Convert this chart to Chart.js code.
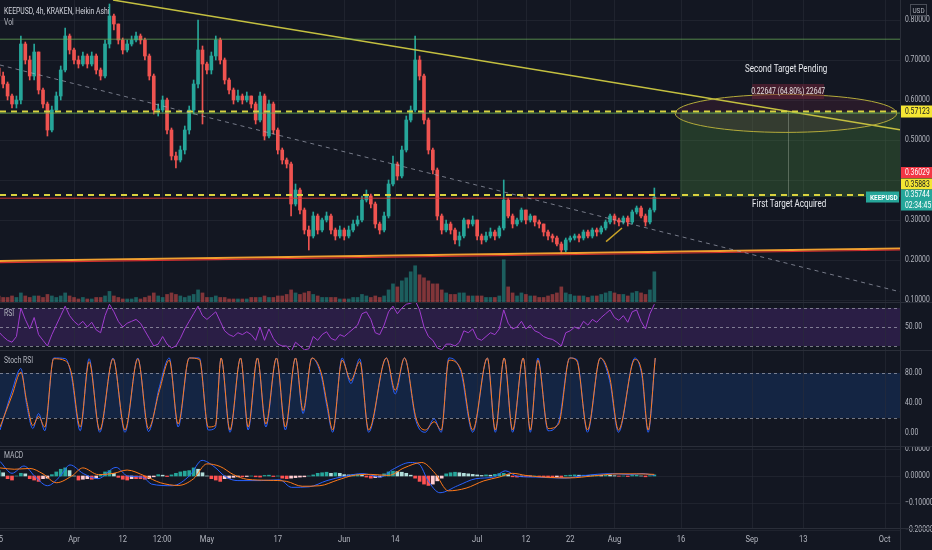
<!DOCTYPE html>
<html>
<head>
<meta charset="utf-8">
<script src="https://cdn.jsdelivr.net/npm/chart.js@4.4.0/dist/chart.umd.min.js"></script>
<style>
  html, body { margin: 0; padding: 0; background: #131722; }
  #wrap { position: relative; width: 932px; height: 550px; overflow: hidden; }
  canvas { position: absolute; left: 0; }
  .sep { position: absolute; background: #2a2e39; }
</style>
</head>
<body>
<div id="wrap">
  <canvas id="price" width="932" height="302" style="top:0"></canvas>
  <canvas id="rsi" width="932" height="47" style="top:303px"></canvas>
  <canvas id="stoch" width="932" height="95" style="top:351px"></canvas>
  <canvas id="macd" width="932" height="103" style="top:447px"></canvas>
  <div class="sep" style="left:0;top:302px;width:932px;height:1px"></div>
  <div class="sep" style="left:0;top:350px;width:932px;height:1px"></div>
  <div class="sep" style="left:0;top:446px;width:932px;height:1px"></div>
  <div class="sep" style="left:900px;top:0;width:1px;height:550px"></div>
</div>
<script>
// Daily Heikin Ashi style candles, day 0 = Mar 15
const closes = [0.66,0.64,0.61,0.59,0.60,0.74,0.70,0.66,0.72,0.625,
  0.59,0.525,0.575,0.61,0.675,0.76,0.725,0.70,0.69,0.71,
  0.69,0.71,0.675,0.66,0.74,0.81,0.79,0.75,0.725,0.74,
  0.75,0.76,0.75,0.71,0.66,0.575,0.575,0.60,0.525,0.46,
  0.45,0.475,0.525,0.575,0.64,0.725,0.69,0.675,0.71,0.75,
  0.70,0.65,0.625,0.60,0.61,0.60,0.61,0.59,0.55,0.61,
  0.51,0.59,0.525,0.475,0.45,0.44,0.34,0.375,0.325,0.275,
  0.26,0.31,0.275,0.30,0.31,0.275,0.26,0.275,0.26,0.275,
  0.29,0.30,0.35,0.36,0.34,0.29,0.275,0.31,0.39,0.44,
  0.41,0.475,0.55,0.575,0.70,0.66,0.55,0.475,0.425,0.31,
  0.275,0.29,0.275,0.25,0.26,0.30,0.29,0.30,0.26,0.25,
  0.26,0.27,0.26,0.28,0.35,0.31,0.29,0.30,0.325,0.30,
  0.31,0.295,0.29,0.27,0.26,0.255,0.24,0.225,0.25,0.255,
  0.26,0.255,0.27,0.26,0.275,0.27,0.28,0.295,0.31,0.30,
  0.295,0.305,0.295,0.32,0.33,0.31,0.295,0.325,0.357];
const highs = [0.69,0.67,0.645,0.615,0.61,0.76,0.745,0.71,0.74,0.72,
  0.63,0.595,0.585,0.62,0.685,0.78,0.765,0.73,0.71,0.72,
  0.715,0.72,0.715,0.68,0.75,0.84,0.815,0.79,0.755,0.75,
  0.76,0.77,0.765,0.755,0.715,0.665,0.59,0.61,0.605,0.53,
  0.47,0.485,0.535,0.585,0.65,0.80,0.735,0.695,0.72,0.76,
  0.755,0.705,0.655,0.63,0.625,0.615,0.62,0.61,0.595,0.62,
  0.615,0.60,0.595,0.53,0.48,0.455,0.445,0.39,0.38,0.33,
  0.285,0.32,0.315,0.305,0.32,0.315,0.28,0.285,0.28,0.285,
  0.30,0.31,0.36,0.375,0.365,0.345,0.295,0.32,0.40,0.46,
  0.445,0.485,0.56,0.585,0.76,0.71,0.665,0.555,0.48,0.43,
  0.315,0.30,0.295,0.28,0.27,0.305,0.30,0.31,0.30,0.265,
  0.27,0.28,0.275,0.285,0.40,0.355,0.315,0.305,0.33,0.325,
  0.315,0.31,0.30,0.29,0.275,0.265,0.26,0.245,0.255,0.26,
  0.265,0.265,0.275,0.275,0.28,0.28,0.285,0.30,0.315,0.315,
  0.305,0.31,0.31,0.325,0.335,0.335,0.315,0.33,0.38];
const lows = [0.64,0.63,0.60,0.58,0.58,0.59,0.69,0.65,0.65,0.615,
  0.58,0.51,0.52,0.57,0.60,0.67,0.715,0.69,0.68,0.685,
  0.68,0.685,0.665,0.65,0.655,0.73,0.775,0.74,0.715,0.72,
  0.735,0.745,0.74,0.70,0.65,0.565,0.56,0.57,0.515,0.45,
  0.43,0.445,0.465,0.515,0.565,0.63,0.54,0.665,0.665,0.70,
  0.69,0.64,0.615,0.59,0.595,0.59,0.595,0.58,0.54,0.545,
  0.50,0.505,0.515,0.465,0.44,0.43,0.31,0.335,0.315,0.265,
  0.225,0.255,0.265,0.27,0.295,0.265,0.25,0.255,0.25,0.255,
  0.27,0.285,0.295,0.345,0.33,0.28,0.265,0.27,0.305,0.385,
  0.40,0.405,0.47,0.545,0.57,0.65,0.54,0.465,0.415,0.30,
  0.265,0.27,0.265,0.24,0.235,0.255,0.28,0.285,0.25,0.24,
  0.245,0.255,0.25,0.255,0.275,0.305,0.28,0.285,0.295,0.29,
  0.295,0.285,0.28,0.26,0.25,0.245,0.235,0.215,0.22,0.245,
  0.25,0.245,0.25,0.255,0.255,0.26,0.265,0.275,0.29,0.29,
  0.285,0.29,0.285,0.29,0.315,0.305,0.285,0.29,0.32];
const firstOpen = 0.68;
const volumes = [2,1.5,1.5,2,1.5,3,2,1.5,2,2,
  1.5,2.5,2,1.5,2,3,2,1.5,1,1.5,
  1,1,1.5,1.5,2,3.5,2,1.5,1,1,
  1,1.5,1,1.5,2,3,2,1.5,2.5,3,
  2.5,2,1.5,2,2.5,4,3,1.5,1.5,2,
  1.5,1.5,1,1,1,1,1,1.5,1.5,1.5,
  2,1.5,1.5,2,2,2.5,4,3,2.5,3,
  3.5,2.5,2,1.5,1.5,1.5,1.5,1,1,1,
  1.5,1.5,2.5,2,1.5,2,1.5,2,4,6,
  5,7,8,10,12,9,8,7,6,6,
  4,3,2.5,2.5,3,3,2,2,2,2,
  1.5,1.5,1.5,2,14,5,3,2,3,2.5,
  2,2,1.5,1.5,2,2.5,3,5,3,2.5,
  2,2,2,1.5,2,2,2.5,3,3.5,3,
  2.5,2.5,2,3,3.5,3,2.5,4,10];

const rsiValues = [45,40,36,34,40,70,58,48,60,42,
  36,30,42,52,62,72,62,56,52,56,
  50,55,47,44,62,74,66,56,50,54,
  56,58,54,46,38,30,32,40,32,28,
  30,38,48,56,64,72,62,58,62,66,
  56,46,42,40,44,42,45,42,36,50,
  36,48,38,32,30,30,24,34,30,26,
  27,40,36,42,45,38,36,42,40,44,
  48,52,64,66,58,44,42,52,66,72,
  64,70,74,75,78,68,50,40,36,28,
  26,32,32,30,34,46,44,48,38,36,
  40,44,42,48,68,54,48,50,56,48,
  52,46,44,40,38,37,34,30,44,46,
  50,48,56,52,58,55,60,64,68,60,
  57,62,55,66,68,56,48,64,74];

const stochDays = [0.3,3.0,5.0,6.3,7.7,9.0,10.4,12.4,15.1,16.4,
  18.4,20.4,22.8,25.8,28.5,31.4,33.8,36.3,38.5,40.5,
  43.0,45.3,47.3,48.9,50.2,52.2,54.6,56.3,58.4,60.3,
  62.7,64.7,67.0,68.7,70.7,72.8,74.1,75.4,77.5,79.5,
  81.5,83.5,87.5,89.5,91.6,94.2,96.3,98.3,99.9,101.6,
  104.3,107.0,110.3,112.1,114.1,116.0,118.4,120.0,121.7,124.0,
  126.4,128.9,130.5,132.9,135.8,137.9,139.9,143.6,145.2,146.6,148.2];
const stochK = [4,56,86,38,6,26,3,100,99,76,
  3,99,1,100,1,100,2,62,100,8,
  100,100,4,7,100,1,100,4,100,8,
  100,4,100,26,100,76,35,1,100,66,
  99,1,100,52,100,16,1,19,1,100,
  82,1,100,1,100,1,100,1,100,3,
  15,100,98,1,100,70,1,100,76,1,100];
const stochD = [8,50,81,43,10,22,8,99,96,80,
  8,95,4,99,4,99,6,57,97,12,
  100,98,8,10,100,4,100,8,100,12,
  100,8,100,30,100,80,40,4,97,70,
  95,4,100,57,100,20,4,15,4,97,
  85,4,100,4,100,4,100,4,97,6,
  12,100,96,4,100,75,4,98,80,4,100];

const macdDays = [0.3,3.0,5.7,8.3,11.0,13.7,16.1,19.1,22.4,26.5,
  29.1,32.5,34.5,39.2,43.2,45.9,48.6,51.3,54.0,59.3,
  63.4,66.1,70.1,74.1,78.1,82.2,86.2,88.9,92.9,94.9,
  96.9,99.6,103.6,107.7,111.7,114.4,117.1,121.1,127.8,131.8,
  138.5,142.5,145.2,148.0];
const macdValues = [0.054,0.01,0.037,-0.004,-0.036,-0.004,0.041,0.009,-0.01,0.032,
  0.0,-0.004,-0.03,-0.036,0.003,0.058,0.035,-0.004,-0.017,-0.017,
  -0.014,-0.042,-0.04,-0.017,-0.001,0.009,-0.004,0.024,0.05,0.044,
  -0.017,-0.062,-0.036,-0.01,-0.004,0.019,-0.001,-0.004,-0.008,0.001,
  0.009,0.005,0.009,0.003];
const signalDays = [0.3,3.5,7.0,10.0,13.0,16.5,19.0,22.5,26.0,29.0,
  33.0,36.5,40.5,44.0,47.0,50.0,53.0,56.0,61.0,65.0,
  68.5,72.5,76.5,80.0,84.0,88.0,91.5,95.5,98.5,101.5,
  105.5,109.5,113.0,116.0,119.0,124.0,129.0,134.0,140.0,144.0,148.0];
const signalValues = [0.03,0.025,0.028,0.008,-0.025,0.0,0.03,0.005,0.01,0.022,
  0.0,-0.025,-0.035,-0.01,0.045,0.035,0.005,-0.012,-0.016,-0.02,
  -0.038,-0.036,-0.015,0.002,0.006,0.002,0.03,0.05,0.01,-0.055,
  -0.045,-0.018,-0.004,0.01,0.002,-0.005,-0.007,0.0,0.008,0.008,0.006];
const histValues = [0.02,0.012,-0.01,-0.015,0.0,0.01,0.008,-0.01,-0.015,-0.02,
  -0.01,-0.008,0.005,0.015,0.025,0.03,0.02,0.0,-0.015,-0.012,
  -0.01,-0.012,-0.008,0.005,0.015,0.02,0.01,-0.005,-0.012,-0.015,
  -0.01,-0.01,-0.01,-0.012,-0.01,-0.003,0.005,0.003,-0.002,0.004,
  0.01,0.015,0.018,0.02,0.03,0.025,0.012,0.0,-0.01,-0.015,
  -0.02,-0.01,-0.008,-0.005,-0.003,-0.003,-0.002,0.0,-0.003,-0.004,
  0.002,0.003,-0.002,0.0,-0.008,-0.01,-0.008,-0.006,-0.004,-0.003,
  0.0,0.004,0.01,0.012,0.014,0.01,0.012,0.01,0.005,0.004,
  0.006,0.006,0.003,-0.004,-0.008,-0.006,-0.004,0.008,0.015,0.018,
  0.016,0.014,0.01,0.003,-0.008,-0.02,-0.03,-0.035,-0.03,-0.018,
  -0.008,0.008,0.012,0.014,0.012,0.01,0.008,0.006,0.004,0.002,
  0.004,0.003,0.006,0.009,0.01,0.005,-0.003,-0.004,-0.002,-0.002,
  -0.001,0.0,-0.002,-0.003,-0.004,-0.004,-0.003,-0.005,0.002,0.003,
  0.004,0.003,0.003,0.002,0.003,0.004,0.003,0.004,0.003,0.001,
  -0.001,0.0,-0.002,0.002,0.003,0.0,-0.003,0.001,0.004];

// time axis
const tickDays = [0, 17, 28, 36.9, 47, 63, 78, 89.5, 108, 119, 129, 139, 154, 170, 181.6, 200];
const tickLabels = ['15', 'Apr', '12', '12:00', 'May', '17', 'Jun', '14', 'Jul', '12', '22', 'Aug', '16', 'Sep', '13', 'Oct'];
const priceTicks = [0.8, 0.7, 0.6, 0.5, 0.3, 0.2, 0.1];
const priceGrid = [0.8, 0.7, 0.6, 0.5, 0.4, 0.3, 0.2, 0.1];
const rsiTicks = [50];
const rsiLevels = [70, 50, 30];
const stochTicks = [80, 40, 0];
const stochLevels = [80, 20];
const macdTicks = [0.1, 0, -0.1, -0.2];

// drawings on the price pane: [day, price]
const downTrend = [[25.8, 0.85], [203.45, 0.5255]];
const upperGreen = [[0.29, 0.752], [203.45, 0.752]];
const targetLine = [[0.29, 0.57123], [203.45, 0.57123]];
const targetGreen = [[0.29, 0.5672], [203.45, 0.5672]];
const entryLine = [[0.29, 0.3625], [203.45, 0.3625]];
const redLine = [[0.29, 0.3545], [153.8, 0.3545]];
const supportLine = [[0.29, 0.1975], [203.45, 0.229]];
const supportRed = [[0.29, 0.1935], [203.45, 0.225]];
const dottedTrend = [[0.29, 0.6875], [203.45, 0.1205]];
const miniTrend = [[137.1, 0.246], [140.7, 0.28]];
const positionBox = [153.8, 203.45, 0.3575, 0.57123]; // dayFrom, dayTo, low, high
const positionMid = 178.2;
const targetEllipse = [177.7, 0.5665, 25, 0.0475]; // day, price, half width (days), half height (price)
const lastPrice = 0.35744;

const X_MIN = 0.29;
const X_MAX = 203.45;
const UP = '#26a69a';
const DOWN = '#ef5350';
const GRID = 'rgba(42,46,57,0.55)';
const AXIS_TEXT = '#b2b5be';
const FONT = "Roboto, 'Noto Sans', sans-serif";
const NARROW = 0.8;

const opens = closes.map((c, i) => (i === 0 ? firstOpen : closes[i - 1]));
const candleColors = closes.map((c, i) => (c >= opens[i] ? UP : DOWN));

function baseOptions(yMin, yMax, bottomPad) {
  return {
    responsive: false,
    animation: false,
    events: [],
    layout: { padding: { left: 0, right: 32, top: 0, bottom: bottomPad || 0 } },
    plugins: { legend: { display: false }, tooltip: { enabled: false } },
    scales: {
      x: { type: 'linear', min: X_MIN, max: X_MAX, display: false, offset: false },
      y: { type: 'linear', min: yMin, max: yMax, display: false },
    },
  };
}

function lineDs(points, color, width, dash, order, smooth) {
  return {
    type: 'line',
    data: points.map((p) => ({ x: p[0], y: p[1] })),
    borderColor: color,
    borderWidth: width,
    borderDash: dash || [],
    pointRadius: 0,
    fill: false,
    tension: smooth ? 0.4 : 0,
    cubicInterpolationMode: smooth ? 'monotone' : 'default',
    order: order || 1,
  };
}

/** text squeezed horizontally, like the condensed axis font of the original */
function narrowText(ctx, text, x, y) {
  ctx.save();
  ctx.translate(x, y);
  ctx.scale(NARROW, 1);
  ctx.fillText(text, 0, 0);
  ctx.restore();
}

/** faint grid + horizontal levels + right axis labels + pane title */
function paneDecor(opts) {
  return {
    id: 'paneDecor',
    beforeDatasetsDraw(chart) {
      const { ctx, chartArea: a, scales: { x, y } } = chart;
      ctx.save();
      if (opts.band) {
        const t = y.getPixelForValue(opts.band[0]);
        const b = y.getPixelForValue(opts.band[1]);
        ctx.fillStyle = opts.bandColor;
        ctx.fillRect(a.left, t, a.right - a.left, b - t);
      }
      ctx.strokeStyle = GRID;
      ctx.lineWidth = 1;
      ctx.beginPath();
      tickDays.forEach((d) => {
        const px = Math.round(x.getPixelForValue(d)) + 0.5;
        ctx.moveTo(px, a.top);
        ctx.lineTo(px, a.bottom);
      });
      (opts.grid || []).forEach((v) => {
        const py = Math.round(y.getPixelForValue(v)) + 0.5;
        ctx.moveTo(a.left, py);
        ctx.lineTo(a.right, py);
      });
      ctx.stroke();
      if (opts.levels) {
        ctx.strokeStyle = 'rgba(200,202,212,0.55)';
        ctx.setLineDash([3, 3]);
        ctx.beginPath();
        opts.levels.forEach((v) => {
          const py = Math.round(y.getPixelForValue(v)) + 0.5;
          ctx.moveTo(a.left, py);
          ctx.lineTo(a.right, py);
        });
        ctx.stroke();
        ctx.setLineDash([]);
      }
      ctx.restore();
    },
    afterDraw(chart) {
      const { ctx, scales: { y } } = chart;
      ctx.save();
      ctx.font = '8.5px ' + FONT;
      ctx.fillStyle = AXIS_TEXT;
      ctx.textAlign = 'left';
      ctx.textBaseline = 'middle';
      opts.ticks.forEach((v) => narrowText(ctx, opts.fmt(v), 905, y.getPixelForValue(v)));
      ctx.font = '8.5px ' + FONT;
      ctx.fillStyle = '#b2b5be';
      (opts.titles || []).forEach((t) => narrowText(ctx, t[0], 4, t[1]));
      ctx.restore();
    },
  };
}

function badge(ctx, x, top, w, h, bg, fg, lines) {
  ctx.fillStyle = bg;
  ctx.fillRect(x, top, w, h);
  ctx.fillStyle = fg;
  ctx.textAlign = 'left';
  ctx.textBaseline = 'middle';
  const step = h / lines.length;
  lines.forEach((t, i) => narrowText(ctx, t, x + 4, top + step * (i + 0.5) + 0.5));
}

const priceDrawings = {
  id: 'priceDrawings',
  beforeDatasetsDraw(chart) {
    const { ctx, scales: { x, y } } = chart;
    const cx = x.getPixelForValue(targetEllipse[0]);
    const cy = y.getPixelForValue(targetEllipse[1]);
    const rx = x.getPixelForValue(targetEllipse[0] + targetEllipse[2]) - cx;
    const ry = y.getPixelForValue(targetEllipse[1] - targetEllipse[3]) - cy;
    ctx.save();
    ctx.fillStyle = 'rgba(120,40,70,0.22)';
    ctx.beginPath();
    ctx.ellipse(cx, cy, rx, ry, 0, 0, Math.PI * 2);
    ctx.fill();
    const bx0 = x.getPixelForValue(positionBox[0]);
    const bx1 = x.getPixelForValue(positionBox[1]);
    const by0 = y.getPixelForValue(positionBox[3]);
    const by1 = y.getPixelForValue(positionBox[2]);
    ctx.fillStyle = 'rgba(90,170,70,0.24)';
    ctx.fillRect(bx0, by0, bx1 - bx0, by1 - by0);
    const mx = Math.round(x.getPixelForValue(positionMid)) + 0.5;
    ctx.strokeStyle = 'rgba(190,200,180,0.35)';
    ctx.lineWidth = 1;
    ctx.beginPath();
    ctx.moveTo(mx, by0);
    ctx.lineTo(mx, by1);
    ctx.stroke();
    ctx.restore();
  },
  afterDatasetsDraw(chart) {
    const { ctx, scales: { x, y } } = chart;
    const cx = x.getPixelForValue(targetEllipse[0]);
    const cy = y.getPixelForValue(targetEllipse[1]);
    const rx = x.getPixelForValue(targetEllipse[0] + targetEllipse[2]) - cx;
    const ry = y.getPixelForValue(targetEllipse[1] - targetEllipse[3]) - cy;
    ctx.save();
    ctx.strokeStyle = '#b3ab3a';
    ctx.lineWidth = 1;
    ctx.beginPath();
    ctx.ellipse(cx, cy, rx, ry, 0, 0, Math.PI * 2);
    ctx.stroke();

    // measure label
    const mx = x.getPixelForValue(positionMid);
    ctx.fillStyle = 'rgba(110,35,55,0.55)';
    ctx.fillRect(mx - 36, 84, 72, 15);
    ctx.font = '8.5px ' + FONT;
    ctx.fillStyle = '#e6e0e0';
    ctx.textAlign = 'center';
    ctx.textBaseline = 'middle';
    narrowText(ctx, '0.22647 (64.80%) 22647', mx, 91.5);

    ctx.font = '10px ' + FONT;
    ctx.fillStyle = '#e8eaef';
    narrowText(ctx, 'Second Target Pending', mx - 2, 69);
    narrowText(ctx, 'First Target Acquired', mx + 1, 204);

    // titles
    ctx.textAlign = 'left';
    ctx.font = '8.5px ' + FONT;
    ctx.fillStyle = '#d1d4dc';
    narrowText(ctx, 'KEEPUSD, 4h, KRAKEN, Heikin Ashi', 4, 12);
    ctx.fillStyle = '#b2b5be';
    narrowText(ctx, 'Vol', 4, 23);
    ctx.restore();
  },
  afterDraw(chart) {
    const { ctx, scales: { y } } = chart;
    ctx.save();
    ctx.font = '8.5px ' + FONT;
    const ty = y.getPixelForValue(0.57123);
    badge(ctx, 901, ty - 6, 31, 12, '#f5e633', '#131722', ['0.57123']);
    const ly = y.getPixelForValue(lastPrice);
    badge(ctx, 901, ly - 30, 31, 11, '#f23645', '#ffffff', ['0.36029']);
    badge(ctx, 901, ly - 18.5, 31, 11, '#f5e633', '#131722', ['0.35883']);
    badge(ctx, 901, ly - 7.5, 31, 21, '#26a69a', '#ffffff', ['0.35744', '02:34:45']);
    ctx.font = 'bold 8px ' + FONT;
    badge(ctx, 866, ly - 5.5, 33, 11, '#26a69a', '#ffffff', ['KEEPUSD']);
    // USD unit box
    ctx.fillStyle = '#131722';
    ctx.fillRect(910, 4, 17, 12);
    ctx.strokeStyle = 'rgba(178,181,190,0.35)';
    ctx.strokeRect(910.5, 4.5, 16, 11);
    ctx.font = '8px ' + FONT;
    ctx.fillStyle = '#b2b5be';
    ctx.textAlign = 'center';
    ctx.textBaseline = 'middle';
    narrowText(ctx, 'USD', 918.5, 10.5);
    ctx.restore();
  },
};

const timeAxis = {
  id: 'timeAxis',
  afterDraw(chart) {
    const { ctx, chartArea: a, scales: { x } } = chart;
    ctx.save();
    ctx.strokeStyle = '#2a2e39';
    ctx.beginPath();
    ctx.moveTo(0, a.bottom + 0.5);
    ctx.lineTo(932, a.bottom + 0.5);
    ctx.stroke();
    ctx.font = '9.5px ' + FONT;
    ctx.fillStyle = AXIS_TEXT;
    ctx.textAlign = 'center';
    ctx.textBaseline = 'middle';
    tickDays.forEach((d, i) => narrowText(ctx, tickLabels[i], x.getPixelForValue(d), a.bottom + 12));
    ctx.restore();
  },
};

// ---- price pane ----
const priceOpts = baseOptions(0.095, 0.85);
priceOpts.scales.yv = { type: 'linear', min: 0, max: 100, display: false };
new Chart(document.getElementById('price'), {
  type: 'bar',
  data: {
    datasets: [
      {
        data: volumes.map((v, i) => ({ x: i, y: v })),
        yAxisID: 'yv',
        backgroundColor: candleColors.map((c) => (c === UP ? 'rgba(38,166,154,0.5)' : 'rgba(239,83,80,0.5)')),
        barThickness: 3,
        grouped: false,
        order: 10,
      },
      {
        data: closes.map((c, i) => ({ x: i, y: [lows[i], highs[i]] })),
        backgroundColor: candleColors,
        barThickness: 1,
        grouped: false,
        order: 6,
      },
      {
        data: closes.map((c, i) => ({ x: i, y: [opens[i], c] })),
        backgroundColor: candleColors,
        barThickness: 3,
        minBarLength: 1,
        grouped: false,
        order: 5,
      },
      lineDs(dottedTrend, 'rgba(170,175,190,0.65)', 1, [4, 4]),
      lineDs(upperGreen, 'rgba(110,180,90,0.7)', 1),
      lineDs(targetGreen, 'rgba(110,180,90,0.8)', 1),
      lineDs(redLine, 'rgba(229,57,53,0.85)', 1),
      lineDs(targetLine, '#d9d23f', 2, [6, 5]),
      lineDs(entryLine, '#d9d23f', 2, [6, 5]),
      lineDs(supportRed, '#d32f2f', 1.2),
      lineDs(supportLine, '#f0a030', 2),
      lineDs(miniTrend, '#c9a227', 1.5),
      lineDs(downTrend, '#c4c040', 1.5),
    ],
  },
  options: priceOpts,
  plugins: [
    paneDecor({ grid: priceGrid, ticks: priceTicks, fmt: (v) => v.toFixed(5) }),
    priceDrawings,
  ],
});

// ---- RSI pane ----
new Chart(document.getElementById('rsi'), {
  type: 'line',
  data: {
    datasets: [lineDs(rsiValues.map((v, i) => [i, v]), '#a03ccf', 1)],
  },
  options: baseOptions(25.8, 75.3),
  plugins: [
    paneDecor({
      band: [70, 30], bandColor: 'rgba(126,60,194,0.22)', levels: rsiLevels,
      ticks: rsiTicks, fmt: (v) => v.toFixed(2), titles: [['RSI', 11]],
    }),
  ],
});

// ---- Stoch RSI pane ----
new Chart(document.getElementById('stoch'), {
  type: 'line',
  data: {
    datasets: [
      lineDs(stochK.map((v, i) => [stochDays[i], v]), '#2962ff', 1, [], 2, true),
      lineDs(stochD.map((v, i) => [stochDays[i], v]), '#ff7a1a', 1, [], 1, true),
    ],
  },
  options: baseOptions(-17.3, 109.3),
  plugins: [
    paneDecor({
      band: [80, 20], bandColor: 'rgba(33,110,243,0.16)', levels: stochLevels,
      ticks: stochTicks, fmt: (v) => v.toFixed(2), titles: [['Stoch RSI', 10]],
    }),
  ],
});

// ---- MACD pane ----
new Chart(document.getElementById('macd'), {
  type: 'bar',
  data: {
    datasets: [
      {
        data: histValues.map((v, i) => ({ x: i, y: v })),
        backgroundColor: histValues.map((v, i) => {
          const prev = i > 0 ? histValues[i - 1] : 0;
          if (v >= 0) return v >= prev ? '#26a69a' : '#b2dfdb';
          return v <= prev ? '#ff5252' : '#ffcdd2';
        }),
        barThickness: 3,
        grouped: false,
        order: 3,
      },
      lineDs(macdValues.map((v, i) => [macdDays[i], v]), '#2962ff', 1, [], 2, true),
      lineDs(signalValues.map((v, i) => [signalDays[i], v]), '#ff7a1a', 1, [], 1, true),
    ],
  },
  options: baseOptions(-0.1926, 0.1074, 22),
  plugins: [
    paneDecor({
      grid: macdTicks, ticks: macdTicks,
      fmt: (v) => (v < 0 ? '\u2212' + Math.abs(v).toFixed(5) : v.toFixed(5)),
      titles: [['MACD', 9]],
    }),
    timeAxis,
  ],
});
</script>
</body>
</html>
